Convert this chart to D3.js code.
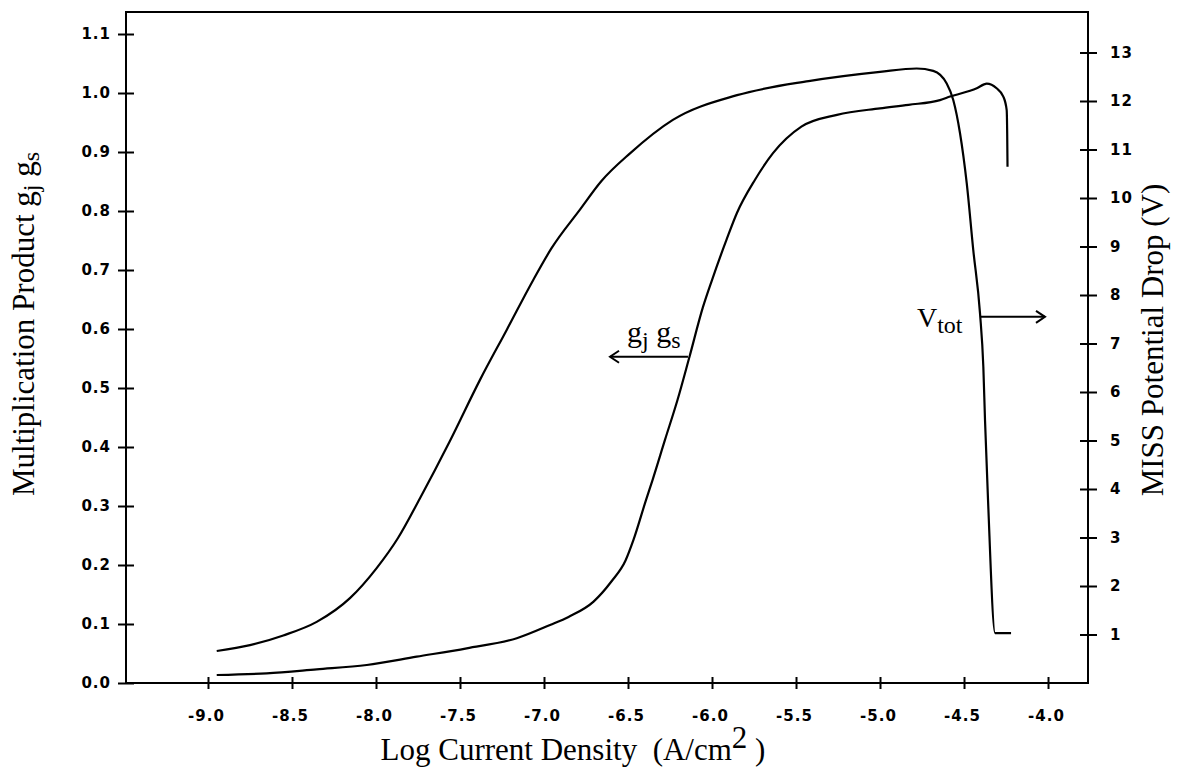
<!DOCTYPE html>
<html><head><meta charset="utf-8">
<script src="https://cdn.jsdelivr.net/npm/d3@7/dist/d3.min.js"></script>
<style>
body{margin:0;background:#fff}
svg{display:block}
.tick text{font-family:"DejaVu Sans",sans-serif;font-weight:bold;font-size:15px;fill:#000;letter-spacing:1px}
.ttl{font-family:"Liberation Serif","Times New Roman",serif;fill:#000;white-space:pre}
</style>
</head><body>
<svg id="c" width="1179" height="770"></svg>
<script>
// ---- data ----
const xTicks = [-9.0,-8.5,-8.0,-7.5,-7.0,-6.5,-6.0,-5.5,-5.0,-4.5,-4.0];
const xTickLabels = ["-9.0","-8.5","-8.0","-7.5","-7.0","-6.5","-6.0","-5.5","-5.0","-4.5","-4.0"];
const leftTicks = [0.0,0.1,0.2,0.3,0.4,0.5,0.6,0.7,0.8,0.9,1.0,1.1];
const leftTickLabels = ["0.0","0.1","0.2","0.3","0.4","0.5","0.6","0.7","0.8","0.9","1.0","1.1"];
const rightTicks = [1,2,3,4,5,6,7,8,9,10,11,12,13];
const rightTickLabels = ["1","2","3","4","5","6","7","8","9","10","11","12","13"];

// V_tot (right axis, volts) vs log current density
const logJ_V = [-8.948,-8.75,-8.552,-8.353,-8.155,-7.996,-7.869,-7.738,-7.56,-7.381,-7.222,-7.064,-6.956,-6.786,-6.658,-6.488,-6.233,-5.851,-5.425,-5.0,-4.782,-4.683,-4.603,-4.564,-4.524,-4.484,-4.445,-4.405,-4.385,-4.375,-4.357,-4.315,-4.22];
const Vtot = [0.66,0.78,0.98,1.26,1.75,2.37,2.99,3.81,4.99,6.25,7.28,8.31,8.96,9.76,10.35,10.92,11.61,12.12,12.41,12.60,12.67,12.62,12.36,12.02,11.34,10.31,8.93,7.63,6.52,5.42,3.77,1.03,1.03];

// g_j g_s multiplication product (left axis) vs log current density
const logJ_g = [-8.948,-8.651,-8.353,-8.055,-7.758,-7.46,-7.162,-6.964,-6.854,-6.705,-6.599,-6.514,-6.468,-6.393,-6.354,-6.28,-6.205,-6.134,-6.054,-6.0,-5.914,-5.851,-5.744,-5.637,-5.468,-5.256,-5.0,-4.83,-4.643,-4.583,-4.424,-4.365,-4.306,-4.266,-4.246,-4.243,-4.241];
const gjgs = [0.0136,0.0164,0.0232,0.0305,0.0446,0.0588,0.0758,0.0983,0.112,0.138,0.172,0.208,0.242,0.310,0.344,0.412,0.480,0.553,0.637,0.683,0.751,0.797,0.853,0.898,0.943,0.963,0.974,0.980,0.988,0.994,1.008,1.016,1.008,0.994,0.971,0.932,0.875];

// annotation anchors (data space)
const gArrow = [[-6.143,0.553],[-6.607,0.553]];   // left axis
const gLabel = [-6.506,0.578];
const vArrow = [[-4.405,7.55],[-4.018,7.55]];     // right axis
const vLabel = [-4.78,7.33];

// ---- layout ----
const L=126, R=1088, T=12, B=683;
const svg = d3.select("#c");
const x = d3.scaleLinear().domain([-9.488,-3.762]).range([L,R]);
const yL = d3.scaleLinear().domain([0,1.1373]).range([B,T]);
const yR = d3.scaleLinear().domain([0,13.835]).range([B,T]);

// frame
svg.append("rect").attr("x",L).attr("y",T).attr("width",R-L).attr("height",B-T)
  .attr("fill","none").attr("stroke","#000").attr("stroke-width",2);

// bottom axis
const gx = svg.append("g").attr("transform",`translate(0,${B})`)
  .call(d3.axisBottom(x).tickValues(xTicks).tickFormat((d,i)=>xTickLabels[i]).tickSize(6));
gx.select(".domain").remove();
gx.selectAll(".tick line").attr("y1",-6).attr("y2",6).attr("stroke","#000").attr("stroke-width",2);
gx.selectAll(".tick text").attr("y",38).attr("dy",0).attr("x",-2);

// left axis
const gl = svg.append("g").attr("transform",`translate(${L},0)`)
  .call(d3.axisLeft(yL).tickValues(leftTicks).tickFormat((d,i)=>leftTickLabels[i]).tickSize(8));
gl.select(".domain").remove();
gl.selectAll(".tick line").attr("x1",-8).attr("x2",8).attr("stroke","#000").attr("stroke-width",2);
gl.selectAll(".tick text").attr("x",-15);

// right axis
const gr = svg.append("g").attr("transform",`translate(${R},0)`)
  .call(d3.axisRight(yR).tickValues(rightTicks).tickFormat((d,i)=>rightTickLabels[i]).tickSize(8));
gr.select(".domain").remove();
gr.selectAll(".tick line").attr("x1",-8).attr("x2",9).attr("stroke","#000").attr("stroke-width",2);
gr.selectAll(".tick text").attr("x",22);

// curves
const lineV = d3.line().x((d,i)=>x(logJ_V[i])).y((d,i)=>yR(Vtot[i])).curve(d3.curveMonotoneX);
svg.append("path").attr("d",lineV(Vtot)).attr("fill","none").attr("stroke","#000").attr("stroke-width",2.2);
const lineG = d3.line().x((d,i)=>x(logJ_g[i])).y((d,i)=>yL(gjgs[i])).curve(d3.curveMonotoneX);
svg.append("path").attr("d",lineG(gjgs)).attr("fill","none").attr("stroke","#000").attr("stroke-width",2.2);

// arrows
function arrow(p0,p1,dir){
  svg.append("line").attr("x1",p0[0]).attr("y1",p0[1]).attr("x2",p1[0]).attr("y2",p1[1])
    .attr("stroke","#000").attr("stroke-width",2);
  const tx=p1[0], ty=p1[1];
  svg.append("path").attr("d",`M${tx-dir*9},${ty-6}L${tx},${ty}L${tx-dir*9},${ty+6}`)
    .attr("fill","none").attr("stroke","#000").attr("stroke-width",2);
}
arrow([x(gArrow[0][0]),yL(gArrow[0][1])],[x(gArrow[1][0]),yL(gArrow[1][1])],-1);
arrow([x(vArrow[0][0]),yR(vArrow[0][1])],[x(vArrow[1][0]),yR(vArrow[1][1])],1);

// curve labels
const gl1 = svg.append("text").attr("class","ttl").attr("x",x(gLabel[0])).attr("y",yL(gLabel[1])).style("font-size","30px");
gl1.append("tspan").text("g");
gl1.append("tspan").attr("dy",6).style("font-size","24px").text("j");
gl1.append("tspan").attr("dy",-6).text(" g");
gl1.append("tspan").attr("dy",6).style("font-size","24px").text("s");

const vl = svg.append("text").attr("class","ttl").attr("x",x(vLabel[0])).attr("y",yR(vLabel[1])).style("font-size","28px");
vl.append("tspan").text("V");
vl.append("tspan").attr("dy",6).style("font-size","24px").text("tot");

// axis titles
const xt = svg.append("text").attr("class","ttl").attr("x",573).attr("y",760)
  .attr("text-anchor","middle").style("font-size","31px");
xt.append("tspan").text("Log Current Density  (A/cm");
xt.append("tspan").attr("dy",-12).text("2");
xt.append("tspan").attr("dy",12).text(" )");

const yt = svg.append("text").attr("class","ttl").attr("text-anchor","middle")
  .attr("transform","translate(34,324) rotate(-90)").style("font-size","31px");
yt.append("tspan").text("Multiplication Product g");
yt.append("tspan").attr("dy",5).style("font-size","24px").text("j");
yt.append("tspan").attr("dy",-5).text(" g");
yt.append("tspan").attr("dy",5).style("font-size","24px").text("s");

svg.append("text").attr("class","ttl").attr("text-anchor","middle")
  .attr("transform","translate(1163,340) rotate(-90)").style("font-size","31px")
  .text("MISS Potential Drop (V)");
</script>
</body></html>
